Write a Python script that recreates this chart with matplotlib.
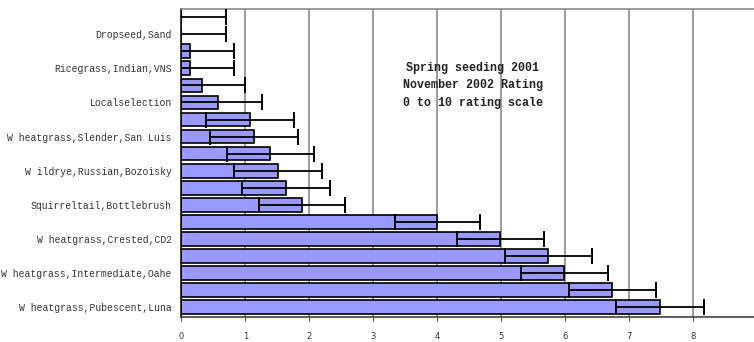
import numpy as np
import matplotlib
matplotlib.use("Agg")
import matplotlib.pyplot as plt

# bottom to top
labels = ["W heatgrass,Pubescent,Luna", "",
          "W heatgrass,Intermediate,Oahe", "",
          "W heatgrass,Crested,CD2", "",
          "Squirreltail,Bottlebrush", "",
          "W ildrye,Russian,Bozoisky", "",
          "W heatgrass,Slender,San Luis", "",
          "Localselection", "",
          "Ricegrass,Indian,VNS", "",
          "Dropseed,Sand", ""]
ratings = [7.48, 6.73, 5.98, 5.73, 4.98, 4.0, 1.88, 1.63, 1.51, 1.39,
           1.13, 1.07, 0.57, 0.32, 0.13, 0.13, 0.0, 0.0]
errors = [0.69, 0.68, 0.68, 0.68, 0.68, 0.67, 0.67, 0.69, 0.69, 0.68,
          0.69, 0.69, 0.69, 0.68, 0.69, 0.69, 0.70, 0.70]
note_lines = ["Spring seeding 2001", "November 2002 Rating", "0 to 10 rating scale"]

fig = plt.figure(figsize=(7.54, 3.42), dpi=100)
ax = fig.add_axes([0.2407, 0.074, 0.7639, 0.901])

y = np.arange(len(ratings))
ax.barh(y, ratings, height=0.8, color="#9999ff", edgecolor="black", linewidth=1.2, zorder=2)
ax.errorbar(ratings, y, xerr=errors, fmt="none", ecolor="black", elinewidth=1.3,
            capsize=5.5, capthick=1.4, zorder=3)

ax.set_xlim(0, 9)
ax.set_ylim(-0.55, 17.5)
ax.set_xticks(range(0, 9))
ax.set_yticks(y)
ax.set_yticklabels(labels, family="Liberation Mono", fontsize=7.0, color="#333333")
ax.tick_params(axis="y", length=0, pad=7)
ax.tick_params(axis="x", length=3, width=0.8, color="#555555", labelsize=6.0,
               labelcolor="#333333", pad=8)

ax.grid(axis="x", color="#808080", linewidth=1.1)
ax.set_axisbelow(True)
ax.spines["top"].set_color("#808080")
ax.spines["top"].set_linewidth(1.1)
ax.spines["right"].set_visible(False)
ax.spines["left"].set_color("black")
ax.spines["left"].set_linewidth(1.1)
ax.spines["bottom"].set_color("#333333")
ax.spines["bottom"].set_linewidth(1.1)

for txt, ty in zip(note_lines, [14.0, 13.0, 11.95]):
    ax.text(4.55, ty, txt, ha="center", va="center", family="Liberation Mono",
            fontweight="bold", fontsize=8.4, color="#222222", zorder=4)

fig.savefig("out.png", dpi=100)
